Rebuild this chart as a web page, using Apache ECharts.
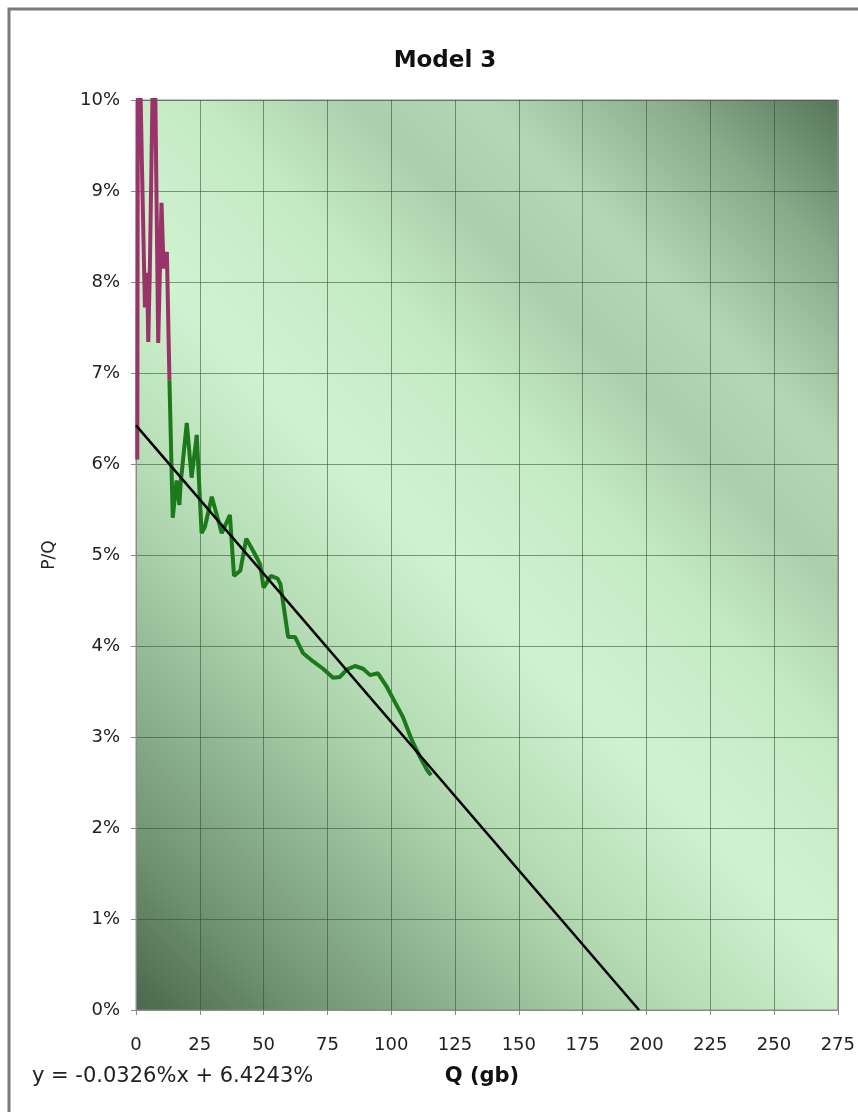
<!DOCTYPE html>
<html>
<head>
<meta charset="utf-8">
<title>Model 3</title>
<script src="https://cdn.jsdelivr.net/npm/echarts@6/dist/echarts.min.js"></script>
<style>
  html, body {
    margin: 0;
    padding: 0;
    background: #fff;
  }
  #chartContainer {
    width: 858px;
    height: 1112px;
  }
</style>
</head>
<body>
<div id="chartContainer"></div>
<script>
// x axis ticks (Q in gb) and y axis ticks (P/Q in %)
const xTicks = [0, 25, 50, 75, 100, 125, 150, 175, 200, 225, 250, 275];
const yTicks = [0, 1, 2, 3, 4, 5, 6, 7, 8, 9, 10];

// early points (purple)
const purpleQ = [0.5, 0.8, 2.4, 3.5, 4.4, 4.8, 5.4, 7.1, 8.7, 10.0, 10.8, 12.1, 13.1];
const purplePct = [6.05, 11.5, 9.18, 7.72, 8.1, 7.34, 8.1, 11.2, 7.33, 8.87, 8.15, 8.33, 6.92];

// later points (green)
const greenQ = [13.1, 14.0, 14.4, 15.9, 17.0, 17.5, 19.9, 21.8, 23.8, 25.7, 27.0, 29.7, 33.6, 36.8,
  38.4, 40.9, 43.2, 46.2, 48.6, 50.0, 52.9, 55.5, 56.6, 59.6, 62.3, 65.5, 69.4, 73.3, 77.2, 79.9,
  82.6, 85.8, 89.0, 91.7, 94.8, 98.3, 101.5, 104.6, 108.0, 111.3, 114.0, 115.6];
const greenPct = [6.92, 5.86, 5.41, 5.82, 5.55, 5.79, 6.45, 5.85, 6.32, 5.24, 5.31, 5.64, 5.24, 5.44,
  4.77, 4.83, 5.18, 5.03, 4.90, 4.64, 4.77, 4.74, 4.68, 4.10, 4.10, 3.92, 3.83, 3.75, 3.65, 3.66,
  3.74, 3.78, 3.75, 3.68, 3.70, 3.55, 3.38, 3.22, 2.97, 2.78, 2.64, 2.58];

// linear trendline end points, y = -0.0326%x + 6.4243%
const trendQ = [0, 197.1];
const trendPct = [6.4243, 0];
const trendLabel = "y = -0.0326%x + 6.4243%";

function pairs(xs, ys) {
  return xs.map(function(x, i) {
    return [x, ys[i]];
  });
}

const font = "DejaVu Sans";

const option = {
  animation: false,
  backgroundColor: "#ffffff",
  title: {
    text: "Model 3",
    left: 440,
    top: 45,
    textAlign: "center",
    textStyle: {
      fontFamily: font,
      fontSize: 23,
      fontWeight: "bold",
      color: "#111"
    }
  },
  grid: {
    show: true,
    left: 136,
    right: 20,
    top: 100,
    bottom: 102,
    borderColor: "#8a8a8a",
    borderWidth: 1,
    // diagonal shading, light through the middle, dark in two corners
    backgroundColor: new echarts.graphic.LinearGradient(136, 1010, 942, 204, [
      { offset: 0, color: "#4a684c" },
      { offset: 0.1, color: "#6f916f" },
      { offset: 0.22, color: "#93b994" },
      { offset: 0.34, color: "#b5dcb5" },
      { offset: 0.47, color: "#cff3cf" },
      { offset: 0.6, color: "#c4eac4" },
      { offset: 0.7, color: "#aacfaa" },
      { offset: 0.78, color: "#b4d8b4" },
      { offset: 0.9, color: "#88aa89" },
      { offset: 1, color: "#56755a" }
    ], true)
  },
  xAxis: {
    type: "value",
    min: xTicks[0],
    max: xTicks[xTicks.length - 1],
    interval: 25,
    axisLabel: {
      margin: 26,
      fontFamily: font,
      fontSize: 18,
      color: "#222"
    },
    axisLine: {
      show: true,
      lineStyle: { color: "#8a8a8a", width: 1 }
    },
    axisTick: {
      show: true,
      length: 5,
      lineStyle: { color: "#8a8a8a" }
    },
    splitLine: {
      show: true,
      lineStyle: { color: "rgba(45,75,45,0.55)", width: 1 }
    }
  },
  yAxis: {
    type: "value",
    min: yTicks[0],
    max: yTicks[yTicks.length - 1],
    interval: 1,
    name: "P/Q",
    nameLocation: "middle",
    nameRotate: 90,
    nameGap: 78,
    nameTextStyle: {
      fontFamily: font,
      fontSize: 17,
      color: "#222"
    },
    axisLabel: {
      margin: 16,
      formatter: "{value}%",
      fontFamily: font,
      fontSize: 18,
      color: "#222"
    },
    axisLine: {
      show: true,
      lineStyle: { color: "#8a8a8a", width: 1 }
    },
    axisTick: {
      show: true,
      length: 5,
      lineStyle: { color: "#8a8a8a" }
    },
    splitLine: {
      show: true,
      lineStyle: { color: "rgba(45,75,45,0.55)", width: 1 }
    }
  },
  graphic: [
    {
      type: "rect",
      silent: true,
      shape: { x: 9, y: 9, width: 900, height: 1200 },
      style: { fill: null, stroke: "#7a7a7a", lineWidth: 3 }
    },
    {
      type: "text",
      x: 32,
      y: 1077,
      style: {
        text: trendLabel,
        fontFamily: font,
        fontSize: 21,
        fill: "#222",
        verticalAlign: "middle"
      }
    },
    {
      type: "text",
      x: 482,
      y: 1077,
      style: {
        text: "Q (gb)",
        fontFamily: font,
        fontSize: 21,
        fontWeight: "bold",
        fill: "#111",
        align: "center",
        verticalAlign: "middle"
      }
    }
  ],
  series: [
    {
      name: "early",
      type: "line",
      showSymbol: false,
      clip: true,
      lineStyle: { color: "#9a336a", width: 4 },
      data: pairs(purpleQ, purplePct)
    },
    {
      name: "later",
      type: "line",
      showSymbol: false,
      clip: true,
      lineStyle: { color: "#1c7a1c", width: 4 },
      data: pairs(greenQ, greenPct)
    },
    {
      name: "trend",
      type: "line",
      showSymbol: false,
      lineStyle: { color: "#000", width: 2.5 },
      data: pairs(trendQ, trendPct)
    }
  ]
};

const myChart = echarts.init(document.getElementById("chartContainer"));
myChart.setOption(option);
</script>
</body>
</html>
